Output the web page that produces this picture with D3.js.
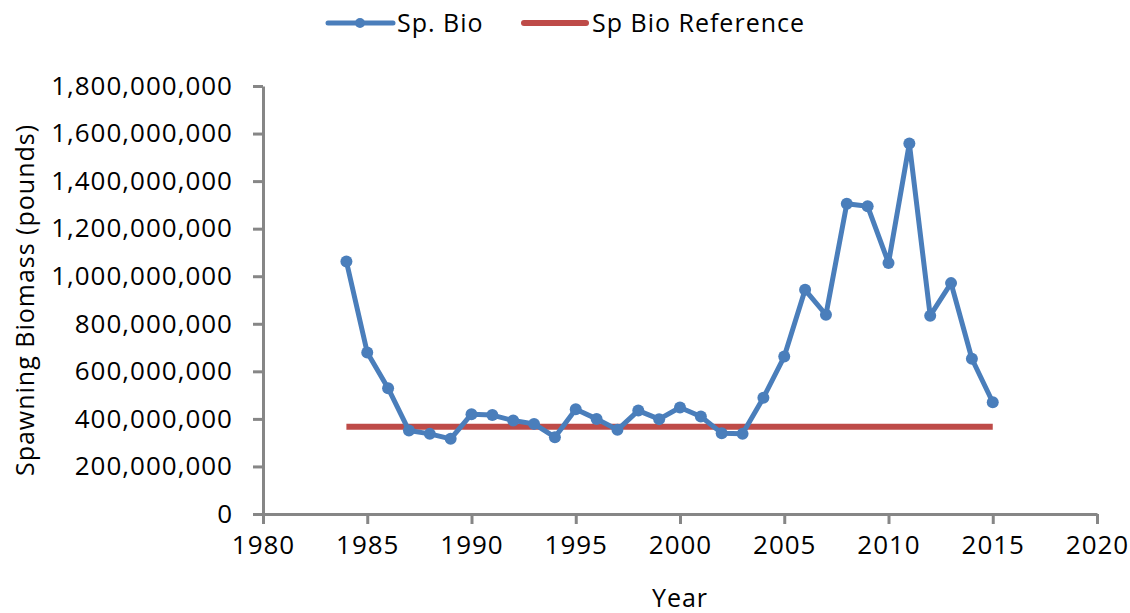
<!DOCTYPE html>
<html lang="en">
  <head>
    <meta charset="UTF-8" />
    <title>Spawning Biomass</title>
    <script src="https://d3js.org/d3.v7.min.js"></script>
    <style>
      body { margin: 0; background: #fff; }
      text { font-family: "Open Sans", sans-serif; fill: #000; letter-spacing: 1px; }
    </style>
  </head>
  <body>
    <div id="chart"></div>
    <script>
      // values
      const years = [1984, 1985, 1986, 1987, 1988, 1989, 1990, 1991, 1992, 1993,
        1994, 1995, 1996, 1997, 1998, 1999, 2000, 2001, 2002, 2003, 2004, 2005,
        2006, 2007, 2008, 2009, 2010, 2011, 2012, 2013, 2014, 2015];
      const spBio = [1062e6, 679e6, 529e6, 351e6, 337e6, 316e6, 420e6, 416e6, 393e6, 379e6,
        323e6, 441e6, 400e6, 354e6, 435e6, 399e6, 448e6, 410e6, 340e6, 337e6, 489e6, 662e6,
        943e6, 838e6, 1305e6, 1294e6, 1056e6, 1558e6, 834e6, 971e6, 653e6, 470e6];
      const refYears = [1984, 2015];
      const refValue = 367e6;
      const xTicks = [1980, 1985, 1990, 1995, 2000, 2005, 2010, 2015, 2020];
      const yTicks = [0, 2e8, 4e8, 6e8, 8e8, 10e8, 12e8, 14e8, 16e8, 18e8];

      const W = 1130, H = 613;
      const margin = { top: 86, right: 33, bottom: 99, left: 263 };
      const width = W - margin.left - margin.right;
      const height = H - margin.top - margin.bottom;

      const blue = '#4A7EBB';
      const red = '#BE4B48';
      const grey = '#868686';

      const svg = d3.select('#chart')
        .append('svg')
          .attr('width', W)
          .attr('height', H);

      const g = svg.append('g')
        .attr('transform', `translate(${margin.left},${margin.top})`);

      const x = d3.scaleLinear().domain([1980, 2020]).range([0, width]);
      const y = d3.scaleLinear().domain([0, 18e8]).range([height, 0]);

      // axes
      const xAxis = g.append('g')
        .attr('transform', `translate(0,${height})`)
        .call(d3.axisBottom(x).tickValues(xTicks).tickFormat(d3.format('d'))
          .tickSizeInner(10).tickSizeOuter(0).tickPadding(12));
      const yAxis = g.append('g')
        .call(d3.axisLeft(y).tickValues(yTicks).tickFormat(d3.format(','))
          .tickSizeInner(10).tickSizeOuter(0).tickPadding(20));

      [xAxis, yAxis].forEach(a => {
        a.select('.domain').attr('stroke', grey).attr('stroke-width', 3);
        a.selectAll('.tick line').attr('stroke', grey).attr('stroke-width', 3);
        a.selectAll('.tick text')
          .style('font-family', '"Open Sans", sans-serif')
          .style('font-size', '26px')
          .attr('fill', '#000');
      });

      // axis titles
      g.append('text')
        .attr('x', width / 2)
        .attr('y', height + 93)
        .attr('text-anchor', 'middle')
        .style('font-size', '25px')
        .text('Year');

      g.append('text')
        .attr('transform', `translate(${-263 + 34},${height / 2}) rotate(-90)`)
        .attr('text-anchor', 'middle')
        .style('font-size', '25px')
        .text('Spawning Biomass (pounds)');

      // reference line
      const line = d3.line().x(d => x(d[0])).y(d => y(d[1]));

      g.append('path')
        .datum(refYears.map(yr => [yr, refValue]))
        .attr('d', line)
        .attr('fill', 'none')
        .attr('stroke', red)
        .attr('stroke-width', 6);

      // biomass series
      const pts = years.map((yr, i) => [yr, spBio[i]]);
      g.append('path')
        .datum(pts)
        .attr('d', line)
        .attr('fill', 'none')
        .attr('stroke', blue)
        .attr('stroke-width', 5)
        .attr('stroke-linejoin', 'round');

      g.selectAll('.pt')
        .data(pts)
        .enter()
        .append('circle')
          .attr('class', 'pt')
          .attr('cx', d => x(d[0]))
          .attr('cy', d => y(d[1]))
          .attr('r', 6)
          .attr('fill', blue);

      // legend
      const legend = svg.append('g').attr('transform', 'translate(0,23)');
      legend.append('line')
        .attr('x1', 328).attr('x2', 393)
        .attr('stroke', blue).attr('stroke-width', 5).attr('stroke-linecap', 'round');
      legend.append('circle').attr('cx', 360).attr('r', 5).attr('fill', blue);
      legend.append('text')
        .attr('x', 397).attr('dy', '0.35em')
        .style('font-size', '25px')
        .text('Sp. Bio');
      legend.append('line')
        .attr('x1', 524).attr('x2', 586)
        .attr('stroke', red).attr('stroke-width', 6).attr('stroke-linecap', 'round');
      legend.append('text')
        .attr('x', 592).attr('dy', '0.35em')
        .style('font-size', '25px')
        .text('Sp Bio Reference');
    </script>
  </body>
</html>
